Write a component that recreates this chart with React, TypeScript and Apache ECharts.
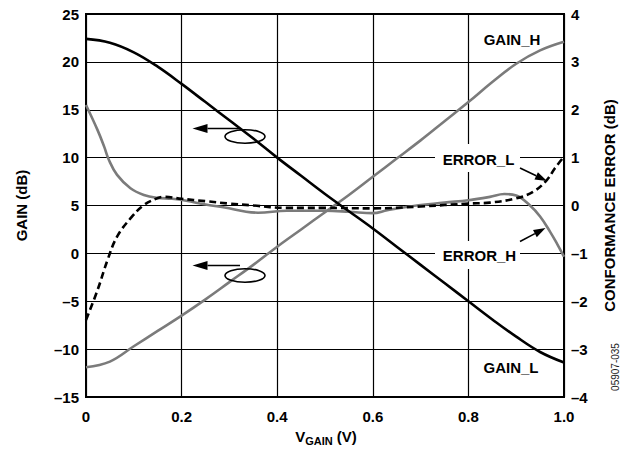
import React, { useEffect, useRef } from "react";
import * as echarts from "echarts";

// V_GAIN (V) sample positions for the gain curves
const gainX = [0, 0.05, 0.1, 0.15, 0.2, 0.25, 0.3, 0.35, 0.4, 0.45, 0.5, 0.55, 0.6, 0.65, 0.7, 0.75, 0.8, 0.85, 0.9, 0.95, 1.0];
// GAIN_L (dB), left axis
const gainL = [22.4, 22.0, 21.0, 19.5, 17.7, 15.8, 13.9, 12.0, 10.0, 8.1, 6.2, 4.4, 2.6, 0.7, -1.2, -3.1, -5.0, -6.9, -8.7, -10.3, -11.4];
// GAIN_H (dB), left axis
const gainH = [-11.9, -11.3, -9.7, -8.1, -6.5, -4.8, -3.0, -1.2, 0.7, 2.5, 4.3, 6.1, 8.0, 9.9, 11.8, 13.8, 15.8, 17.9, 19.8, 21.2, 22.1];

// ERROR_H (dB), right axis
const errHX = [0, 0.024, 0.038, 0.048, 0.065, 0.093, 0.121, 0.149, 0.18, 0.21, 0.25, 0.29, 0.335, 0.36, 0.42, 0.5, 0.55, 0.6, 0.63, 0.67, 0.75, 0.8, 0.845, 0.875, 0.9, 0.929, 0.95, 0.971, 0.985, 1.0];
const errHY = [2.1, 1.58, 1.23, 0.95, 0.64, 0.36, 0.22, 0.16, 0.14, 0.1, 0.02, -0.04, -0.13, -0.15, -0.11, -0.11, -0.13, -0.16, -0.1, -0.03, 0.06, 0.11, 0.18, 0.24, 0.21, 0.0, -0.23, -0.55, -0.79, -1.07];

// ERROR_L (dB), right axis
const errLX = [0, 0.024, 0.045, 0.065, 0.093, 0.121, 0.149, 0.163, 0.2, 0.25, 0.3, 0.35, 0.42, 0.5, 0.6, 0.7, 0.8, 0.845, 0.9, 0.936, 0.964, 0.981, 1.0];
const errLY = [-2.39, -1.77, -1.14, -0.65, -0.27, 0.01, 0.15, 0.18, 0.14, 0.09, 0.04, 0.0, -0.05, -0.05, -0.06, -0.02, 0.04, 0.06, 0.15, 0.29, 0.53, 0.78, 1.02];

const xTicks = ["0", "0.2", "0.4", "0.6", "0.8", "1.0"];

const FONT = "'Liberation Sans', Arial, Helvetica, sans-serif";
const GRAY = "#7b7b7b";

function fmtNeg(v: number) {
  return v < 0 ? "\u2013" + Math.abs(v) : String(v);
}

function arrow(x1: number, y1: number, x2: number, y2: number, len: number, half: number) {
  const dx = x2 - x1;
  const dy = y2 - y1;
  const d = Math.sqrt(dx * dx + dy * dy);
  const ux = dx / d;
  const uy = dy / d;
  const bx = x2 - ux * len;
  const by = y2 - uy * len;
  const px = -uy * half;
  const py = ux * half;
  return [
    { type: "line", z: 100, shape: { x1, y1, x2: bx, y2: by }, style: { stroke: "#000", lineWidth: 1.6 } },
    {
      type: "polygon",
      z: 100,
      shape: { points: [[x2, y2], [bx + px, by + py], [bx - px, by - py]] },
      style: { fill: "#000" },
    },
  ];
}

function label(text: string, cx: number, cy: number, box?: [number, number, number, number]) {
  const els: any[] = [];
  if (box) {
    els.push({ type: "rect", z: 99, shape: { x: box[0], y: box[1], width: box[2], height: box[3] }, style: { fill: "#fff" } });
  }
  els.push({
    type: "text",
    z: 100,
    x: cx,
    y: cy,
    style: { text, fontFamily: FONT, fontWeight: "bold", fontSize: 15, fill: "#000", align: "center", verticalAlign: "middle" },
  });
  return els;
}

export default function App() {
  const ref = useRef<HTMLDivElement>(null);
  useEffect(() => {
    if (!ref.current) return;
    const chart = echarts.init(ref.current, undefined, { renderer: "svg" });
    const pairs = (xs: number[], ys: number[]) => xs.map((x, i) => [x, ys[i]]);
    const graphic: any[] = [
      { type: "ellipse", z: 100, shape: { cx: 245, cy: 136.5, rx: 20, ry: 6.8 }, style: { fill: "none", stroke: "#000", lineWidth: 1.6 } },
      ...arrow(240, 128.5, 192.5, 128.5, 15, 4.5),
      { type: "ellipse", z: 100, shape: { cx: 245, cy: 275.5, rx: 20, ry: 6.8 }, style: { fill: "none", stroke: "#000", lineWidth: 1.6 } },
      ...arrow(240, 265.5, 192.5, 265.5, 15, 4.5),
      ...label("GAIN_H", 512, 39),
      ...label("GAIN_L", 511, 367),
      ...label("ERROR_L", 478.5, 159, [435, 144, 85, 28]),
      ...label("ERROR_H", 479.5, 255, [435, 241, 85, 28]),
      ...arrow(520, 168, 547, 181, 12, 4),
      ...arrow(520, 241.5, 545.5, 228, 12, 4),
      {
        type: "text",
        z: 100,
        x: 326,
        y: 437.5,
        style: {
          text: "{a|V}{b|GAIN}{a| (V)}",
          align: "center",
          verticalAlign: "middle",
          rich: {
            a: { fontFamily: FONT, fontWeight: "bold", fontSize: 15, lineHeight: 15, verticalAlign: "top", fill: "#000" },
            b: { fontFamily: FONT, fontWeight: "bold", fontSize: 11, lineHeight: 17, verticalAlign: "bottom", fill: "#000" },
          },
        },
      },
      {
        type: "text",
        z: 100,
        x: 615,
        y: 367,
        rotation: Math.PI / 2,
        style: { text: "05907-035", fontFamily: FONT, fontSize: 10, fill: "#222", align: "center", verticalAlign: "middle" },
      },
    ];
    const lineCommon = { type: "line", smooth: 0.4, showSymbol: false };
    chart.setOption({
      animation: false,
      backgroundColor: "#fff",
      grid: { left: 86, right: 72, top: 14, bottom: 56, show: true, borderColor: "#000", borderWidth: 2, backgroundColor: "transparent" },
      xAxis: {
        type: "value",
        min: 0,
        max: 1,
        interval: 0.2,
        axisLine: { show: false },
        axisTick: { show: false },
        splitLine: { show: true, lineStyle: { color: "#000", width: 1.2 } },
        axisLabel: {
          margin: 12,
          fontFamily: FONT,
          fontWeight: "bold",
          fontSize: 15,
          color: "#000",
          formatter: (v: number) => xTicks[Math.round(v / 0.2)] ?? String(v),
        },
      },
      yAxis: [
        {
          type: "value",
          min: -15,
          max: 25,
          interval: 5,
          name: "GAIN (dB)",
          nameLocation: "middle",
          nameRotate: 90,
          nameGap: 57,
          nameTextStyle: { fontFamily: FONT, fontWeight: "bold", fontSize: 15, color: "#000" },
          axisLine: { show: false },
          axisTick: { show: false },
          splitLine: { show: true, lineStyle: { color: "#000", width: 1.2 } },
          axisLabel: { margin: 7, fontFamily: FONT, fontWeight: "bold", fontSize: 15, color: "#000", formatter: fmtNeg },
        },
        {
          type: "value",
          position: "right",
          min: -4,
          max: 4,
          interval: 1,
          name: "CONFORMANCE ERROR (dB)",
          nameLocation: "middle",
          nameRotate: 90,
          nameGap: 38,
          nameTextStyle: { fontFamily: FONT, fontWeight: "bold", fontSize: 15, color: "#000" },
          axisLine: { show: false },
          axisTick: { show: false },
          splitLine: { show: false },
          axisLabel: { margin: 7, fontFamily: FONT, fontWeight: "bold", fontSize: 15, color: "#000", formatter: fmtNeg },
        },
      ],
      series: [
        {
          ...lineCommon,
          name: "GAIN_H",
          yAxisIndex: 0,
          data: pairs(gainX, gainH),
          lineStyle: { color: GRAY, width: 2.6 },
          itemStyle: { color: GRAY },
        },
        {
          ...lineCommon,
          name: "ERROR_H",
          yAxisIndex: 1,
          data: pairs(errHX, errHY),
          lineStyle: { color: GRAY, width: 2.6 },
          itemStyle: { color: GRAY },
        },
        {
          ...lineCommon,
          name: "ERROR_L",
          yAxisIndex: 1,
          data: pairs(errLX, errLY),
          lineStyle: { color: "#000", width: 2.6, type: [7, 4] },
          itemStyle: { color: "#000" },
        },
        {
          ...lineCommon,
          name: "GAIN_L",
          yAxisIndex: 0,
          data: pairs(gainX, gainL),
          lineStyle: { color: "#000", width: 2.6 },
          itemStyle: { color: "#000" },
        },
      ],
      graphic,
    });
    return () => chart.dispose();
  }, []);
  return <div ref={ref} style={{ position: "fixed", left: 0, top: 0, width: 636, height: 453 }} />;
}
